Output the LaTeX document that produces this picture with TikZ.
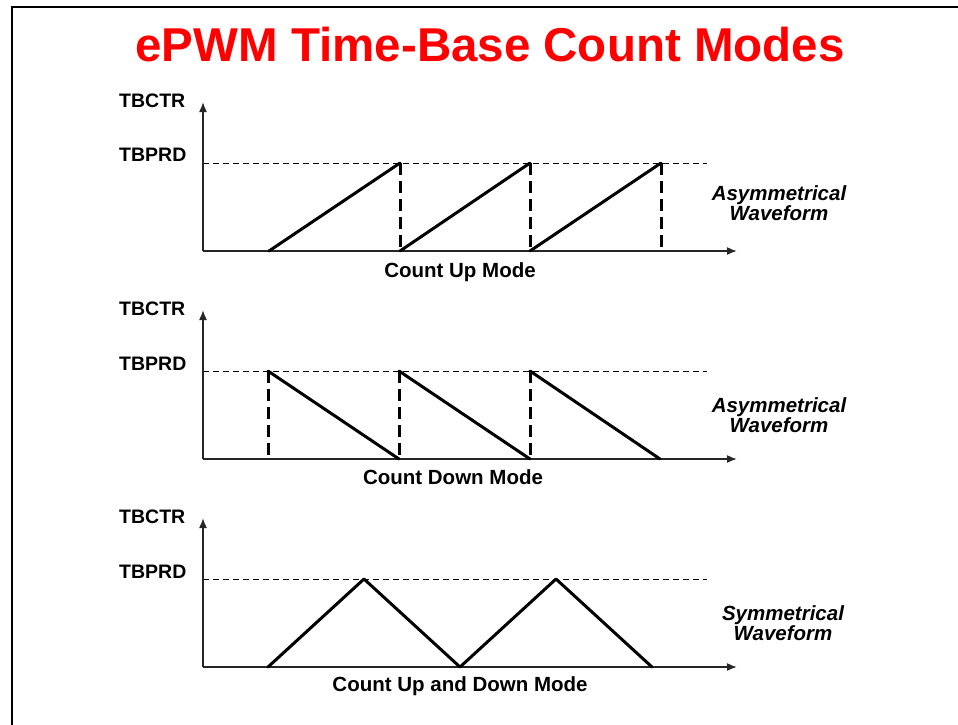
\documentclass[tikz,border=0pt]{standalone}
\usepackage{fontspec}
\setmainfont{Liberation Sans}
\usetikzlibrary{arrows.meta}
\begin{document}
\begin{tikzpicture}[x=1pt,y=-1pt,
  frame/.style={line width=2.6pt,black},
  axisline/.style={line width=1.6pt,black!85,-{Latex[length=10pt,width=8pt]}},
  yaxisline/.style={line width=1.6pt,black!85,-{Latex[length=10pt,width=8pt]}},
  wave/.style={line width=3pt,black,line cap=round,line join=round},
  vdashline/.style={line width=3pt,black,dash pattern=on 12pt off 6pt},
  hdashline/.style={line width=0.9pt,black,dash pattern=on 6pt off 4pt},
  sidelbl/.style={inner sep=0pt,anchor=west,font=\fontsize{19.5}{20}\selectfont\bfseries},
  modelbl/.style={inner sep=0pt,anchor=base,font=\fontsize{20.5}{21}\selectfont\bfseries},
  wflbl/.style={inner sep=0pt,anchor=base,font=\fontsize{20.5}{21}\selectfont\bfseries\itshape},
  titlelbl/.style={inner sep=0pt,anchor=base,text=red,font=\fontsize{47.5}{50}\selectfont\bfseries}
]
\useasboundingbox (0,0) rectangle (958,725);
\fill[white] (0,0) rectangle (958,725);
% frame
\coordinate (fr1) at (12,725);
\coordinate (fr2) at (12,7);
\coordinate (fr3) at (958,7);
\draw[frame] (fr1) -- (fr2) -- (fr3);
% title
\node[titlelbl] (title) at (490,62) {ePWM Time-Base Count Modes};

% ===== Panel 1: Count Up =====
\coordinate (o1) at (203,251);
\coordinate (ytip1) at (203,102);
\coordinate (xtip1) at (737,251);
\coordinate (pl1) at (203,163);
\coordinate (pr1) at (707,163);
\draw[hdashline] (pl1) -- (pr1);
\draw[yaxisline] (o1) -- (ytip1);
\draw[axisline] (o1) -- (xtip1);
\coordinate (a0) at (269,251);
\coordinate (a1t) at (400,163); \coordinate (a1b) at (400,251);
\coordinate (a2t) at (530,163); \coordinate (a2b) at (530,251);
\coordinate (a3t) at (661,163); \coordinate (a3b) at (661,251);
\draw[vdashline] (a1t) -- (a1b);
\draw[vdashline] (a2t) -- (a2b);
\draw[vdashline] (a3t) -- (a3b);
\draw[wave] (a0) -- (a1t);
\draw[wave] (a1b) -- (a2t);
\draw[wave] (a2b) -- (a3t);
\node[sidelbl] (ctr1) at (119,101) {TBCTR};
\node[sidelbl] (prd1) at (119,155) {TBPRD};
\node[modelbl] (mode1) at (460,277) {Count Up Mode};
\node[wflbl] (wfa1) at (779,200) {Asymmetrical};
\node[wflbl] (wfb1) at (779,220) {Waveform};

% ===== Panel 2: Count Down =====
\coordinate (o2) at (203,459);
\coordinate (ytip2) at (203,310);
\coordinate (xtip2) at (737,459);
\coordinate (pl2) at (203,371);
\coordinate (pr2) at (707,371);
\draw[hdashline] (pl2) -- (pr2);
\draw[yaxisline] (o2) -- (ytip2);
\draw[axisline] (o2) -- (xtip2);
\coordinate (b0t) at (268,371); \coordinate (b0b) at (268,459);
\coordinate (b1t) at (399,371); \coordinate (b1b) at (399,459);
\coordinate (b2t) at (530,371); \coordinate (b2b) at (530,459);
\coordinate (b3) at (660,459);
\draw[vdashline] (b0t) -- (b0b);
\draw[vdashline] (b1t) -- (b1b);
\draw[vdashline] (b2t) -- (b2b);
\draw[wave] (b0t) -- (b1b);
\draw[wave] (b1t) -- (b2b);
\draw[wave] (b2t) -- (b3);
\node[sidelbl] (ctr2) at (119,309) {TBCTR};
\node[sidelbl] (prd2) at (119,364) {TBPRD};
\node[modelbl] (mode2) at (453,484) {Count Down Mode};
\node[wflbl] (wfa2) at (779,412) {Asymmetrical};
\node[wflbl] (wfb2) at (779,432) {Waveform};

% ===== Panel 3: Count Up and Down =====
\coordinate (o3) at (203,667);
\coordinate (ytip3) at (203,518);
\coordinate (xtip3) at (737,667);
\coordinate (pl3) at (203,579);
\coordinate (pr3) at (707,579);
\draw[hdashline] (pl3) -- (pr3);
\draw[yaxisline] (o3) -- (ytip3);
\draw[axisline] (o3) -- (xtip3);
\coordinate (c0) at (268,667);
\coordinate (c1) at (364,579);
\coordinate (c2) at (460,667);
\coordinate (c3) at (556,579);
\coordinate (c4) at (652,667);
\draw[wave] (c0) -- (c1) -- (c2) -- (c3) -- (c4);
\node[sidelbl] (ctr3) at (119,517) {TBCTR};
\node[sidelbl] (prd3) at (119,572) {TBPRD};
\node[modelbl] (mode3) at (460,691) {Count Up and Down Mode};
\node[wflbl] (wfa3) at (783,620) {Symmetrical};
\node[wflbl] (wfb3) at (783,640) {Waveform};
\end{tikzpicture}
\end{document}
